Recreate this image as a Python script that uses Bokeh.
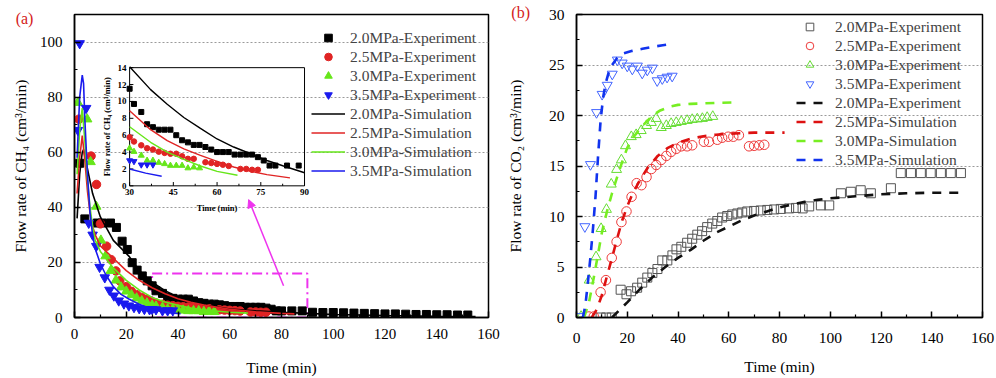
import math
from bokeh.plotting import figure
from bokeh.models import Range1d, Legend, LegendItem, Arrow, NormalHead, FixedTicker, LinearAxis, Grid
from bokeh.layouts import row
from bokeh.core.properties import value
from bokeh.embed import file_html
from bokeh.resources import INLINE

FONT = "Liberation Serif"

# ======================= panel (a): CH4 =======================
a_x_ticks = [0, 20, 40, 60, 80, 100, 120, 140, 160]
a_x_minor = [10, 30, 50, 70, 90, 110, 130, 150]
a_y_ticks = [0, 20, 40, 60, 80, 100]
a_y_minor = [10, 30, 50, 70, 90]

labels_exp = ["2.0MPa-Experiment", "2.5MPa-Experiment", "3.0MPa-Experiment", "3.5MPa-Experiment"]
labels_sim = ["2.0MPa-Simulation", "2.5MPa-Simulation", "3.0MPa-Simulation", "3.5MPa-Simulation"]

# experiments
a20_t = [2, 4, 8.8, 10.7, 13.9, 16.2, 18.4, 20.4, 22.3, 24.2, 26.2, 28.1, 30, 31.5, 34, 36, 38, 40, 42, 44,
         46, 48, 50, 52, 54, 56, 58, 60, 62, 64, 66, 68, 70, 72, 74, 76, 78, 80, 84, 88, 92, 96, 100, 104,
         108, 112, 116, 120, 124, 128, 132, 136, 140, 144, 148, 152]
a20_y = [56, 35.8, 34.3, 34.3, 34.3, 32.7, 27.7, 24.7, 19.9, 17.2, 15.1, 13.3, 11.5, 9.7, 8.75, 7.3, 6.95,
         6.65, 6.65, 6.65, 6.0, 5.4, 5.15, 4.85, 4.85, 4.6, 4.3, 4.0, 4.0, 4.0, 3.7, 3.7, 3.7, 3.7, 3.4, 3.0,
         2.4, 2.4, 2.4, 2.4, 1.9, 1.8, 1.8, 1.7, 1.6, 1.5, 1.4, 1.3, 1.3, 1.2, 1.1, 1.1, 1.0, 1.0, 0.9, 0.9]
a25_t = [1.7, 6.4, 8.5, 10, 12.4, 14.2, 16, 17.5, 20, 22, 24, 26, 28, 30, 31.5, 34, 36, 38, 40, 42, 44, 46,
         48, 50, 52, 56, 58, 60, 62, 64, 68, 70, 72, 74]
a25_y = [72, 58.6, 48.3, 34, 25.9, 21, 16.9, 13.3, 11.2, 9.5, 8.3, 7.3, 6.5, 5.75, 5.25, 4.8, 4.45, 4.3,
         4.05, 3.9, 3.8, 3.8, 3.5, 3.2, 3.2, 2.8, 2.7, 2.6, 2.5, 2.35, 2.0, 2.0, 1.9, 1.9]
a30_t = [1.3, 4.9, 6.2, 8.4, 10.2, 12, 14, 16, 18, 20, 22, 24, 26, 28, 30, 31.5, 34, 36, 38, 40, 42, 44,
         46, 48, 50, 52, 54]
a30_y = [78, 72, 56.5, 40.3, 28, 22.3, 17, 13.5, 11, 9.5, 8.2, 7, 6, 5.2, 4.45, 4.05, 3.6, 3.0, 3.0, 2.75,
         2.6, 2.4, 2.4, 2.4, 2.1, 2.2, 2.1]
a35_t = [1.3, 2, 4.5, 5.5, 7, 8.4, 9.7, 11.7, 13.5, 15.2, 17.1, 19.1, 21, 23, 25, 27, 29, 30, 31.5, 34, 36, 38]
a35_y = [68, 99.5, 76, 34.3, 30, 25.9, 18.3, 14.5, 10, 7.9, 6.1, 5.0, 4.3, 3.7, 3.3, 3.0, 2.9, 3.0, 2.9,
         2.5, 2.5, 2.5]

# simulations (main plot)
s20_t = [1, 2, 3, 3.5, 5, 7, 10, 15, 21, 25, 30, 35, 40, 45, 50, 60, 70, 80, 90, 100, 120, 140, 155]
s20_y = [36, 52, 60, 61, 54, 45, 36.5, 28, 22.3, 17, 12.8, 9.7, 7.4, 5.8, 4.6, 3.1, 2.4, 1.9, 1.5, 1.1,
         0.7, 0.4, 0.3]
s25_t = [1, 2, 3, 4, 5, 6, 7, 8, 10, 15, 20, 25, 30, 35, 40, 45, 50, 60, 70, 80, 85]
s25_y = [45, 58, 66, 57, 46, 38, 33, 30, 26, 21.5, 17, 13.5, 10.8, 8.6, 6.8, 5.5, 4.5, 3.0, 2.1, 1.5, 1.3]
s30_t = [1, 2, 3, 4, 5, 6, 7, 8, 10, 15, 20, 25, 30, 35, 40, 45, 50, 60, 67]
s30_y = [52, 68, 76, 64, 50, 40, 33, 28, 24, 18, 13.5, 10, 7.3, 5.6, 4.4, 3.4, 2.7, 1.9, 1.6]
s35_t = [1, 2, 3, 3.5, 4, 5, 6, 7, 8, 10, 12, 15, 18, 21, 25, 30, 35, 41]
s35_y = [58, 80, 88, 85, 72, 52, 38, 30, 25, 19.5, 15.7, 11.2, 8.4, 6.7, 4.8, 3.0, 1.8, 1.4]

# inset (zoom of 30-90 min)
in_x_ticks = [30, 45, 60, 75, 90]
in_x_minor = [37.5, 52.5, 67.5, 82.5]
in_y_ticks = [0, 2, 4, 6, 8, 10, 12, 14]
in_s20_t = [30, 37.2, 42.9, 48.6, 54.3, 60, 65.7, 71.5, 77.1, 82.8, 90]
in_s20_y = [14.1, 11.4, 9.66, 8.1, 6.8, 5.55, 4.6, 3.8, 3.0, 2.35, 1.55]
in_s25_t = [30, 37.2, 42.9, 48.6, 54.3, 60, 65.7, 71.5, 77.1, 85]
in_s25_y = [8.9, 6.65, 5.36, 4.38, 3.6, 2.9, 2.23, 1.72, 1.33, 0.94]
in_s30_t = [30, 37.2, 42.9, 48.6, 54.3, 60, 67]
in_s30_y = [7.0, 5.16, 3.99, 3.13, 2.35, 1.72, 1.25]
in_s35_t = [30, 35.5, 41]
in_s35_y = [2.0, 1.5, 1.14]

zoom_box = dict(left=30, right=90, bottom=0, top=16)          # dash-dot rectangle (main units)
arrow_pts = dict(x_start=80.8, y_start=11.5, x_end=67.3, y_end=42.8)
inset_box = dict(left=21.3, right=88.9, bottom=47.8, top=90.7)  # where the inset sits (main units)
inset_rng = dict(x0=30, x1=90, y0=0, y1=14)

# ======================= panel (b): CO2 =======================
b_x_ticks = [0, 20, 40, 60, 80, 100, 120, 140, 160]
b_x_minor = [10, 30, 50, 70, 90, 110, 130, 150]
b_y_ticks = [0, 5, 10, 15, 20, 25, 30]
b_y_minor = [2.5, 7.5, 12.5, 17.5, 22.5, 27.5]

b20_t = [9.5, 11.7, 13.9, 17.4, 19.7, 21.5, 23.9, 25.9, 27.9, 29.9, 31.9, 33.8, 35.8, 37.8, 39.4, 41.3, 43.6,
         45.6, 47.6, 49.5, 51.5, 53.5, 55.5, 57.4, 59.4, 61.4, 63.4, 65.3, 67.3, 70, 72.6, 75.2, 77.9, 80.5,
         83.8, 86.5, 89.1, 91.7, 96.3, 99.6, 104.2, 108.1, 112, 116, 123.9, 127.8, 131.8, 135.7, 139.6,
         143.6, 147.5, 151.5]
b20_y = [0, 0, 0, 2.75, 2.3, 2.6, 2.95, 3.45, 3.95, 4.4, 4.8, 5.65, 5.65, 6.15, 6.75, 7.0, 7.4, 7.8, 8.2,
         8.55, 8.95, 9.3, 9.55, 9.9, 10.05, 10.2, 10.3, 10.4, 10.5, 10.55, 10.6, 10.65, 10.7, 10.75, 10.8,
         10.85, 10.8, 11.0, 11.1, 11.1, 12.3, 12.45, 12.6, 12.3, 12.8, 14.3, 14.3, 14.3, 14.3, 14.3, 14.3,
         14.3]
b25_t = [4.9, 6.8, 9.5, 11.6, 13.9, 15.8, 17.7, 19.7, 21.7, 23.7, 25.6, 27.6, 29.5, 31.4, 33.4, 35.4, 37.3,
         39.3, 41.3, 43.6, 45.6, 50.2, 52.2, 55.5, 57.4, 59.8, 61.8, 64, 68, 70, 72, 74]
b25_y = [0.1, 0.1, 2.5, 3.7, 5.9, 7.5, 9.45, 10.5, 11.95, 13.3, 13.1, 13.9, 14.7, 15.1, 15.6, 16.0, 16.4,
         16.7, 16.95, 16.95, 17.05, 17.4, 17.4, 17.6, 17.8, 17.9, 17.9, 18.05, 16.95, 17.0, 17.05, 17.1]
b30_t = [1.8, 5.0, 7.7, 9.7, 11.8, 13.7, 15.8, 17.7, 19.3, 21.6, 23.5, 25.5, 27.6, 29.5, 31.4, 33.4, 35.4,
         37.3, 39.3, 41.3, 43.6, 45.6, 47.6, 49.6, 51.5, 53.7]
b30_y = [0.1, 3.7, 6.0, 8.8, 10.7, 13.2, 14.65, 15.6, 17.0, 17.9, 18.1, 18.5, 19.0, 19.3, 19.7, 18.8, 19.0,
         19.2, 19.3, 19.4, 19.5, 19.6, 19.65, 19.7, 19.8, 19.9]
b35_t = [1, 3.3, 5.5, 7.9, 10.1, 12.1, 14.1, 16.1, 18, 20, 22, 24, 25.9, 27.9, 29.9, 31.8, 33.8, 35.7, 37.7]
b35_y = [0.1, 9.0, 15.15, 20.3, 22.1, 23.0, 24.1, 25.5, 25.2, 24.9, 24.6, 24.9, 24.2, 24.5, 24.7, 23.45,
         23.65, 23.8, 23.9]

bs20_t = [14, 20, 25, 30, 35, 40, 45, 50, 55, 60, 65, 70, 75, 80, 85, 90, 95, 100, 110, 120, 130, 140, 152]
bs20_y = [0, 1.5, 2.8, 4.0, 5.0, 5.9, 6.7, 7.6, 8.4, 9.0, 9.6, 10.1, 10.5, 10.9, 11.2, 11.45, 11.65, 11.8,
          12.0, 12.2, 12.3, 12.35, 12.35]
bs25_t = [6, 8, 10, 12, 14, 16, 18, 20, 22, 25, 28, 32, 36, 40, 45, 50, 55, 60, 70, 82]
bs25_y = [0, 0.8, 2.2, 4.1, 5.9, 7.8, 9.6, 11.0, 12.2, 13.6, 14.8, 16.0, 16.8, 17.3, 17.7, 17.95, 18.1, 18.2,
          18.3, 18.3]
bs30_t = [3, 5, 7, 8, 10, 12, 14, 16, 18, 20, 22, 25, 28, 30, 33, 37, 40, 45, 50, 55, 64]
bs30_y = [0, 1.6, 4.2, 5.6, 8.4, 10.5, 12.3, 13.9, 15.4, 16.8, 17.7, 18.7, 19.5, 20.0, 20.5, 20.9, 21.05,
          21.15, 21.2, 21.25, 21.3]
bs35_t = [2.5, 3.5, 4.5, 5.5, 6.5, 7.5, 8.5, 9.5, 10.5, 11.5, 12.5, 14, 16, 18, 22, 26, 30, 34, 38]
bs35_y = [0, 1.2, 3.5, 6.0, 8.8, 12, 16, 19.5, 21.8, 23.2, 24.1, 25.0, 25.7, 26.1, 26.4, 26.6, 26.8, 26.95,
          27.1]
b_labels = ["2.0MPa-Experiment", "2.5MPa-Experiment", "3.0MPa-Experiment", "3.5MPa-Experiment",
            "2.0MPa-Experiment", "2.5MPa-Simulation", "3.0MPa-Simulation", "3.5MPa-Simulation"]

# ======================= styles =======================
A_COL = ["#000000", "#e02424", "#66e61a", "#1a1aee"]
B_MK = ["#555555", "#ee3a3a", "#66dd33", "#4466ff"]
B_LN = ["#111111", "#dd1111", "#77ee22", "#1133ee"]
MAGENTA = "#ee33ee"
LABEL_RED = "#d42020"


def make_axis(ticks, minor):
    # axis line + inward ticks; its texts are drawn as text glyphs below
    return LinearAxis(ticker=FixedTicker(ticks=ticks, minor_ticks=minor),
                      major_tick_in=6, major_tick_out=0, minor_tick_in=3, minor_tick_out=0,
                      axis_line_width=1.5, major_tick_line_width=1.5, minor_tick_line_width=1.2,
                      major_label_text_alpha=0, major_label_text_font_size="0px",
                      major_label_overrides={t: "" for t in ticks})


def overlay_text(p, **kw):
    r = p.text(text_font=value(FONT), **kw)
    r.level = "overlay"
    return r


def setup(p, xt, xm, yt, ym, xlabel, ylabel, tick_size, x_off, y_off, xlab_off, ylab_off):
    xa = make_axis(xt, xm)
    ya = make_axis(yt, ym)
    p.add_layout(xa, "below")
    p.add_layout(ya, "left")
    p.add_layout(Grid(dimension=1, ticker=ya.ticker, grid_line_color="#9a9a9a", grid_line_dash="2 2",
                      grid_line_width=1))
    p.outline_line_color = "black"
    p.outline_line_width = 1.5
    p.background_fill_color = "white"
    p.border_fill_color = "white"
    x0, x1 = p.x_range.start, p.x_range.end
    y0, y1 = p.y_range.start, p.y_range.end
    overlay_text(p, x=xt, y=[y0] * len(xt), text=[str(v) for v in xt], y_offset=x_off,
                 text_align="center", text_baseline="top", text_font_size=tick_size, text_color="black")
    overlay_text(p, x=[x0] * len(yt), y=yt, text=[str(v) for v in yt], x_offset=-y_off,
                 text_align="right", text_baseline="middle", text_font_size=tick_size, text_color="black")
    overlay_text(p, x=[(x0 + x1) / 2], y=[y0], text=[xlabel], y_offset=xlab_off, text_align="center",
                 text_baseline="middle", text_font_size="15.5px", text_color="black")
    overlay_text(p, x=[x0], y=[(y0 + y1) / 2], text=[ylabel], x_offset=-ylab_off, angle=math.pi / 2,
                 text_align="center", text_baseline="middle", text_font_size="15.5px", text_color="black")


def tag(p, x, y, text):
    overlay_text(p, x=[x], y=[y], text=[text], text_color=LABEL_RED, text_font_size="16px",
                 text_align="center", text_baseline="middle")


# ---------------- figure (a) ----------------
pa = figure(width=500, height=378, x_range=Range1d(0, 160), y_range=Range1d(0, 110),
            x_axis_type=None, y_axis_type=None,
            output_backend="svg", toolbar_location=None,
            min_border_left=74, min_border_right=12, min_border_top=11, min_border_bottom=61)
pa.title.visible = False
setup(pa, a_x_ticks, a_x_minor, a_y_ticks, a_y_minor, "Time (min)", "Flow rate of CH\u2084 (cm\u00b3/min)",
      "15px", 11, 12, 50, 54)

pa.quad(left=[zoom_box["left"]], right=[zoom_box["right"]], bottom=[zoom_box["bottom"]],
        top=[zoom_box["top"]], fill_alpha=0, line_color=MAGENTA, line_width=2, line_dash="10 4 2 4")

exp_sets = [(a20_t, a20_y), (a25_t, a25_y), (a30_t, a30_y), (a35_t, a35_y)]
sim_sets = [(s20_t, s20_y), (s25_t, s25_y), (s30_t, s30_y), (s35_t, s35_y)]
markers = ["square", "circle", "triangle", "inverted_triangle"]
msizes = [8, 8.5, 9.5, 9.5]

exp_r = []
for (t, y), c, m, s in zip(exp_sets, A_COL, markers, msizes):
    exp_r.append(pa.scatter(t, y, marker=m, size=s, fill_color=c, line_color=c))
sim_r = []
for (t, y), c in zip(sim_sets, A_COL):
    sim_r.append(pa.line(t, y, line_color=c, line_width=1.6))

pa.add_layout(Arrow(end=NormalHead(size=8, line_color=MAGENTA, fill_color=MAGENTA, line_width=1),
                    line_color=MAGENTA, line_width=1.5, **arrow_pts))

# inset via extra ranges mapped onto inset_box
kx = (inset_box["right"] - inset_box["left"]) / (inset_rng["x1"] - inset_rng["x0"])
ky = (inset_box["top"] - inset_box["bottom"]) / (inset_rng["y1"] - inset_rng["y0"])
pa.extra_x_ranges = {"ix": Range1d(inset_rng["x0"] - (inset_box["left"] - 0) / kx,
                                   inset_rng["x0"] + (160 - inset_box["left"]) / kx)}
pa.extra_y_ranges = {"iy": Range1d(inset_rng["y0"] - (inset_box["bottom"] - 0) / ky,
                                   inset_rng["y0"] + (110 - inset_box["bottom"]) / ky)}
IN = dict(x_range_name="ix", y_range_name="iy")

pa.quad(left=[inset_rng["x0"]], right=[inset_rng["x1"]], bottom=[inset_rng["y0"]], top=[inset_rng["y1"]],
        fill_alpha=0, line_color="black", line_width=1, **IN)
pa.segment(x0=in_x_ticks, y0=[0] * len(in_x_ticks), x1=in_x_ticks, y1=[0.45] * len(in_x_ticks),
           line_color="black", line_width=1, **IN)
pa.segment(x0=in_x_minor, y0=[0] * len(in_x_minor), x1=in_x_minor, y1=[0.25] * len(in_x_minor),
           line_color="black", line_width=1, **IN)
pa.segment(x0=[30] * len(in_y_ticks), y0=in_y_ticks, x1=[31.3] * len(in_y_ticks), y1=in_y_ticks,
           line_color="black", line_width=1, **IN)
pa.text(x=in_x_ticks, y=[0] * len(in_x_ticks), text=[str(v) for v in in_x_ticks], y_offset=3,
        text_align="center", text_baseline="top", text_font=value(FONT), text_font_size="9px",
        text_font_style="bold", **IN)
pa.text(x=[30] * len(in_y_ticks), y=in_y_ticks, text=[str(v) for v in in_y_ticks], x_offset=-3,
        text_align="right", text_baseline="middle", text_font=value(FONT), text_font_size="9px",
        text_font_style="bold", **IN)
pa.text(x=[60], y=[0], text=["Time (min)"], y_offset=22, text_align="center", text_baseline="middle",
        text_font=value(FONT), text_font_size="8.5px", text_font_style="bold", **IN)
pa.text(x=[30], y=[7], text=["Flow rate of CH\u2084 (cm\u00b3/min)"], x_offset=-23, angle=math.pi / 2,
        text_align="center", text_baseline="middle", text_font=value(FONT), text_font_size="8.5px",
        text_font_style="bold", **IN)


def sel(t, y, lo, hi):
    pts = [(a, b) for a, b in zip(t, y) if lo <= a <= hi]
    return [a for a, _ in pts], [b for _, b in pts]


in_sizes = [5, 5.5, 6, 6]
for (t, y), c, m, s in zip(exp_sets, A_COL, markers, in_sizes):
    tt, yy = sel(t, y, inset_rng["x0"], inset_rng["x1"])
    pa.scatter(tt, yy, marker=m, size=s, fill_color=c, line_color=c, **IN)
for (t, y), c in zip([(in_s20_t, in_s20_y), (in_s25_t, in_s25_y), (in_s30_t, in_s30_y),
                      (in_s35_t, in_s35_y)], A_COL):
    pa.line(t, y, line_color=c, line_width=1.4, **IN)

leg_a = Legend(items=[LegendItem(label=l, renderers=[r]) for l, r in zip(labels_exp + labels_sim,
                                                                         exp_r + sim_r)],
               location=(237, 137), padding=0, margin=0, spacing=0, label_standoff=5,
               glyph_width=34, glyph_height=19, label_height=19,
               label_text_font=FONT, label_text_font_size="15.5px",
               background_fill_alpha=0, border_line_alpha=0)
pa.add_layout(leg_a)
tag(pa, -19.3, 108.6, "(a)")

# ---------------- figure (b) ----------------
pb = figure(width=496, height=378, x_range=Range1d(0, 160), y_range=Range1d(0, 30),
            x_axis_type=None, y_axis_type=None,
            output_backend="svg", toolbar_location=None,
            min_border_left=76, min_border_right=14, min_border_top=14, min_border_bottom=60)
pb.title.visible = False
setup(pb, b_x_ticks, b_x_minor, b_y_ticks, b_y_minor, "Time (min)", "Flow rate of CO\u2082 (cm\u00b3/min)",
      "15.5px", 15, 12, 49, 61)

b_exp = [(b20_t, b20_y), (b25_t, b25_y), (b30_t, b30_y), (b35_t, b35_y)]
b_sim = [(bs20_t, bs20_y), (bs25_t, bs25_y), (bs30_t, bs30_y), (bs35_t, bs35_y)]
b_sizes = [9, 9.5, 10, 10]
rb_exp = []
for (t, y), c, m, s in zip(b_exp, B_MK, markers, b_sizes):
    rb_exp.append(pb.scatter(t, y, marker=m, size=s, fill_alpha=0, line_color=c, line_width=1))
rb_sim = []
for (t, y), c in zip(b_sim, B_LN):
    rb_sim.append(pb.line(t, y, line_color=c, line_width=2.6, line_dash="9 8"))

leg_b = Legend(items=[LegendItem(label=l, renderers=[r]) for l, r in zip(b_labels, rb_exp + rb_sim)],
               location=(220, 148), padding=0, margin=0, spacing=0, label_standoff=12,
               glyph_width=27, glyph_height=19, label_height=19,
               label_text_font=FONT, label_text_font_size="15.5px",
               background_fill_alpha=0, border_line_alpha=0)
pb.add_layout(leg_b)
tag(pb, -22, 30.2, "(b)")

layout = row(pa, pb)
open("out.html", "w").write(file_html(layout, INLINE))
